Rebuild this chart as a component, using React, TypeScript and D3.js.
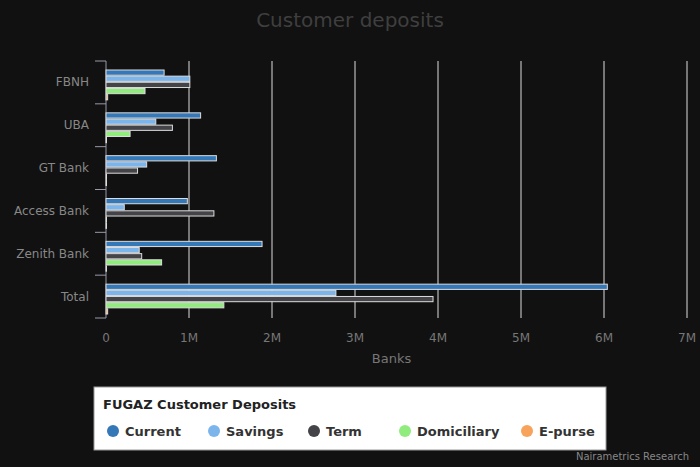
import * as d3 from 'd3';

const banks = ['FBNH', 'UBA', 'GT Bank', 'Access Bank', 'Zenith Bank', 'Total'];
const seriesNames = ['Current', 'Savings', 'Term', 'Domiciliary', 'E-purse'];
const colors = ['#3578b8', '#7cb5ec', '#434348', '#90ed7d', '#f7a35c'];
// values in millions, per bank: current, savings, term, domiciliary, e-purse
const current = [0.7, 1.14, 1.33, 0.98, 1.88, 6.04];
const savings = [1.01, 0.6, 0.49, 0.22, 0.4, 2.77];
const term = [1.01, 0.8, 0.38, 1.3, 0.43, 3.94];
const domiciliary = [0.47, 0.29, 0, 0, 0.67, 1.42];
const epurse = [0.02, 0, 0, 0, 0, 0.02];
const xTicks = [0, 1, 2, 3, 4, 5, 6, 7];

const values = [current, savings, term, domiciliary, epurse];

export default function App() {
  const width = 700;
  const height = 467;
  const left = 106;
  const right = 687;
  const top = 61;
  const bottom = 318;

  const x = d3.scaleLinear().domain([0, 7]).range([left, right]);
  const y = d3.scaleBand().domain(banks).range([top, bottom]);
  const inner = d3.scaleBand().domain(seriesNames).range([9, y.bandwidth() - 4]).paddingInner(0.15);
  const font = 'DejaVu Sans, sans-serif';

  return (
    <svg width={width} height={height} style={{ position: 'absolute', left: 0, top: 0, background: '#111' }}>
      <rect width={width} height={height} fill="#111" />
      <text x={350} y={27} textAnchor="middle" fill="#3f3f3f" fontSize={20} fontFamily={font}>
        Customer deposits
      </text>
      {xTicks.map((t) => (
        <g key={t}>
          {t > 0 && <line x1={x(t)} x2={x(t)} y1={top} y2={bottom} stroke="#ddd" strokeWidth={1} />}
          <text x={x(t)} y={342} textAnchor="middle" fill="#777" fontSize={12} fontFamily={font}>
            {t === 0 ? '0' : `${t}M`}
          </text>
        </g>
      ))}
      <text x={(left + right) / 2 - 5} y={363} textAnchor="middle" fill="#777" fontSize={13} fontFamily={font}>
        Banks
      </text>
      <line x1={left} x2={left} y1={top} y2={bottom} stroke="#99a" />
      {[...banks.map((b) => y(b)!), bottom].map((v, i) => (
        <line key={i} x1={95} x2={left} y1={v} y2={v} stroke="#99a" />
      ))}
      {banks.map((b) => (
        <text key={b} x={89} y={y(b)! + y.bandwidth() / 2 + 4} textAnchor="end" fill="#888" fontSize={12} fontFamily={font}>
          {b}
        </text>
      ))}
      {banks.map((b, i) =>
        seriesNames.map((s, j) => (
          <rect
            key={b + s}
            x={x(0)}
            y={y(b)! + inner(s)!}
            width={Math.max(x(values[j][i]) - x(0), 0.5)}
            height={inner.bandwidth()}
            fill={colors[j]}
            stroke="#ddd"
            strokeWidth={1}
          />
        ))
      )}
      <rect x={94} y={387} width={512} height={63} fill="#fff" stroke="#999" />
      <text x={103} y={409} fill="#222" fontSize={13} fontWeight="bold" fontFamily={font}>
        FUGAZ Customer Deposits
      </text>
      {seriesNames.map((s, j) => {
        const lx = [113, 214, 314, 405, 527][j];
        return (
          <g key={s}>
            <circle cx={lx} cy={431} r={6} fill={colors[j]} />
            <text x={lx + 12} y={436} fill="#333" fontSize={13} fontWeight="bold" fontFamily={font}>
              {s}
            </text>
          </g>
        );
      })}
      <text x={689} y={460} textAnchor="end" fill="#888" fontSize={10} fontFamily={font}>
        Nairametrics Research
      </text>
    </svg>
  );
}
